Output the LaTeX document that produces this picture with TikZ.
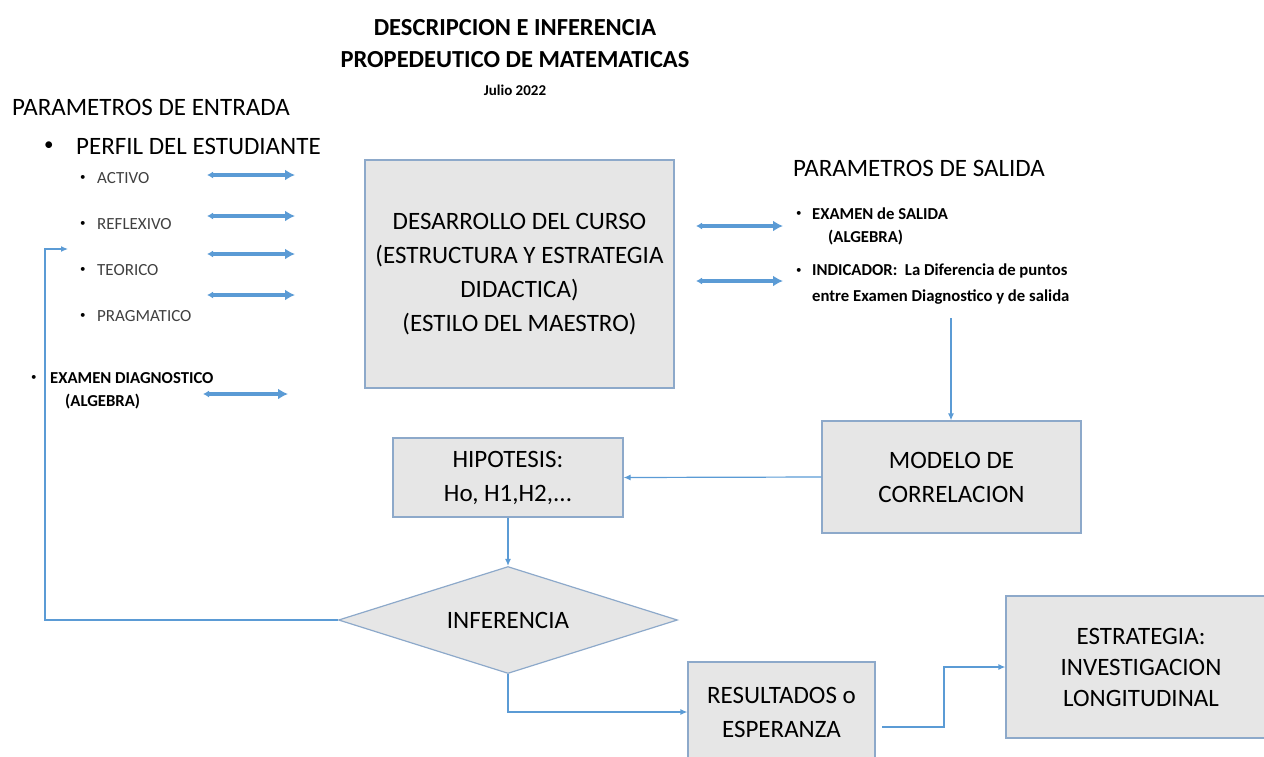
\documentclass[tikz,border=0pt]{standalone}
\usepackage{fontspec}
\setmainfont{Carlito}
\usetikzlibrary{shapes.geometric,arrows.meta}
\definecolor{lineblue}{HTML}{5B9BD5}
\definecolor{boxgray}{HTML}{E6E6E6}
\definecolor{boxedge}{HTML}{8DA9CA}
\definecolor{softtext}{HTML}{404040}
\begin{document}
\begin{tikzpicture}[x=1pt,y=-1pt,
    box/.style={draw=boxedge,fill=boxgray,line width=1.2pt,align=center,inner sep=0pt,font=\fontsize{25}{34}\selectfont},
    fat/.style={lineblue,line width=4pt,{Latex[length=6pt,width=7pt]}-{Latex[length=10pt,width=11pt]}},
    link/.style={lineblue,line width=1.2pt,-{Latex[length=7pt,width=6pt]}},
    big/.style={anchor=west,inner sep=0pt,font=\fontsize{25}{30}\selectfont},
    small/.style={anchor=west,inner sep=0pt,text=softtext,font=\fontsize{17}{22}\selectfont},
    smallb/.style={anchor=west,inner sep=0pt,font=\bfseries\fontsize{16.7}{22}\selectfont},
    dot/.style={anchor=west,inner sep=0pt,font=\fontsize{11}{12}\selectfont}]
    \useasboundingbox (0,0) rectangle (1264,756);
    % title
    \node[align=center,font=\bfseries\fontsize{24.5}{32}\selectfont] (title) at (515,44) {DESCRIPCION E INFERENCIA\\PROPEDEUTICO DE MATEMATICAS};
    \node[font=\bfseries\fontsize{15}{18}\selectfont] (date) at (515,90) {Julio 2022};
    % entrada
    \node[big] (entrada) at (12,107) {PARAMETROS DE ENTRADA};
    \node[big,font=\fontsize{19}{20}\selectfont] (dot0) at (44,146) {•};
    \node[big] (perfil) at (76,146) {PERFIL DEL ESTUDIANTE};
    \foreach \t/\y in {ACTIVO/178,REFLEXIVO/224,TEORICO/270,PRAGMATICO/316}{
        \node[dot] (dot\t) at (80,\y) {•};
        \node[small] (\t) at (97,\y) {\t};
    }
    \foreach \i/\y in {1/175,2/216,3/254,4/295}{
        \coordinate (a\i) at (207,\y);
        \coordinate (b\i) at (295,\y);
        \draw[fat] (a\i) -- (b\i);
    }
    \node[dot] (dot5) at (31,378) {•};
    \node[smallb] (diag) at (50,378) {EXAMEN DIAGNOSTICO};
    \node[smallb] (diagb) at (65,402) {(ALGEBRA)};
    \coordinate (a5) at (203,394);
    \coordinate (b5) at (288,394);
    \draw[fat] (a5) -- (b5);
    % curso
    \node[box,minimum width=309,minimum height=228] (curso) at (519.5,274) {DESARROLLO DEL CURSO\\(ESTRUCTURA Y ESTRATEGIA\\DIDACTICA)\\(ESTILO DEL MAESTRO)};
    % salida
    \node[big] (salida) at (793,168) {PARAMETROS DE SALIDA};
    \node[dot] (dot6) at (796,214) {•};
    \node[smallb] (exsal) at (812,214) {EXAMEN de SALIDA};
    \node[smallb] (exsalb) at (828,238) {(ALGEBRA)};
    \node[dot] (dot7) at (796,271) {•};
    \node[smallb] (ind) at (812,271) {INDICADOR:\ \ La Diferencia de puntos};
    \node[smallb] (indb) at (812,297) {entre Examen Diagnostico y de salida};
    \foreach \i/\y in {6/226,7/281}{
        \coordinate (a\i) at (696,\y);
        \coordinate (b\i) at (783,\y);
        \draw[fat] (a\i) -- (b\i);
    }
    % flujo
    \node[box,minimum width=259,minimum height=112] (modelo) at (951.5,477) {MODELO DE\\CORRELACION};
    \node[box,minimum width=230,minimum height=79] (hip) at (508,477.5) {HIPOTESIS:\\Ho, H1,H2,...};
    \node[box,shape=diamond,shape aspect=3.2,minimum width=339,minimum height=107] (inf) at (508,620) {INFERENCIA};
    \node[box,minimum width=187,minimum height=100] (result) at (781.5,712) {RESULTADOS o\\ESPERANZA};
    \node[box,minimum width=270,minimum height=142,font=\fontsize{25}{31}\selectfont] (estrat) at (1141,667) {ESTRATEGIA:\\INVESTIGACION\\LONGITUDINAL};
    \coordinate (top) at (951,318);
    \coordinate (turn) at (45,249);
    \coordinate (back) at (68,249);
    \coordinate (rs) at (882,727);
    \draw[link] (top) -- (top |- modelo.north);
    \draw[link] (modelo.west) -- (hip.east);
    \draw[link] (hip.south) -- (inf.north);
    \draw[link] (inf.west) -| (turn) -- (back);
    \draw[link] (inf.south) |- (result.west);
    \draw[link] (rs) -- ++(62,0) |- (estrat.west);
\end{tikzpicture}
\end{document}
